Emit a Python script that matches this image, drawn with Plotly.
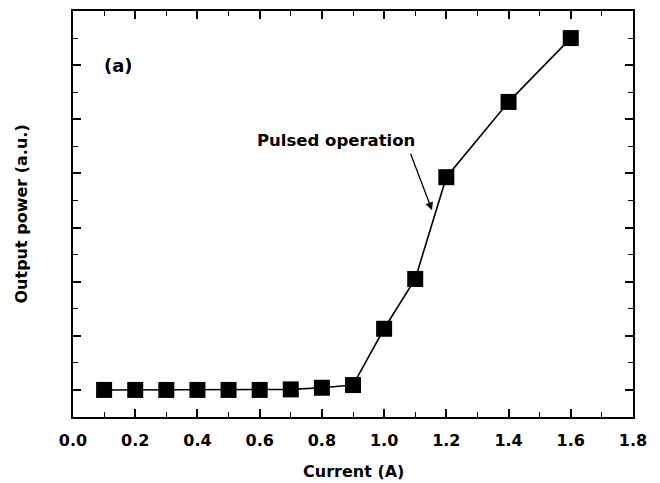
import plotly.graph_objects as go

# Output power versus drive current under pulsed operation
current = [0.1, 0.2, 0.3, 0.4, 0.5, 0.6, 0.7, 0.8, 0.9, 1.0, 1.1, 1.2, 1.4, 1.6]
power = [0.0, 0.0, 0.0, 0.0, 0.0, 0.0, 0.01, 0.04, 0.09, 1.13, 2.05, 3.93, 5.32, 6.50]

x_ticks = [0.0, 0.2, 0.4, 0.6, 0.8, 1.0, 1.2, 1.4, 1.6, 1.8]
x_tick_text = ["0.0", "0.2", "0.4", "0.6", "0.8", "1.0", "1.2", "1.4", "1.6", "1.8"]

FONT = "DejaVu Sans, sans-serif"

fig = go.Figure()
fig.add_trace(go.Scatter(
    x=current, y=power, mode="lines+markers",
    line=dict(color="black", width=1.6),
    marker=dict(symbol="square", size=16, color="black"),
    showlegend=False,
))

axis_common = dict(
    showline=True, linecolor="black", linewidth=2, mirror="ticks",
    ticks="inside", ticklen=8, tickwidth=1.5, tickcolor="black",
    showgrid=False, zeroline=False,
)

fig.update_xaxes(
    range=[0, 1.8], tickvals=x_ticks, ticktext=x_tick_text,
    tickfont=dict(family=FONT, size=16, color="black", weight="bold"),
    ticklabelstandoff=8,
    minor=dict(dtick=0.1, ticks="inside", ticklen=5, tickwidth=1.2, tickcolor="black"),
    **axis_common,
)
fig.update_yaxes(
    range=[-0.5, 7.0], dtick=1, tick0=0, showticklabels=False,
    minor=dict(dtick=0.5, ticks="inside", ticklen=5, tickwidth=1.2, tickcolor="black"),
    **axis_common,
)

bold = dict(family=FONT, color="black", weight="bold")

fig.add_annotation(x=0.5, y=-0.135, xref="paper", yref="paper", text="Current (A)",
                   showarrow=False, font=dict(size=16, **bold), yanchor="middle")
fig.add_annotation(x=-0.092, y=0.5, xref="paper", yref="paper", text="Output power (a.u.)",
                   showarrow=False, textangle=-90, font=dict(size=16, **bold), xanchor="center")
fig.add_annotation(x=0.145, y=6.0, text="(a)", showarrow=False,
                   font=dict(size=18, **bold))
fig.add_annotation(x=0.845, y=4.6, text="Pulsed operation", showarrow=False,
                   font=dict(size=16.5, **bold))
fig.add_annotation(x=1.154, y=3.32, ax=-22, ay=-58, text="", showarrow=True,
                   arrowhead=2, arrowsize=1.2, arrowwidth=1.3, arrowcolor="black")

fig.update_layout(
    width=660, height=483,
    margin=dict(l=73, r=27, t=9, b=66),
    paper_bgcolor="white", plot_bgcolor="white",
)

fig.write_html("out.html")
